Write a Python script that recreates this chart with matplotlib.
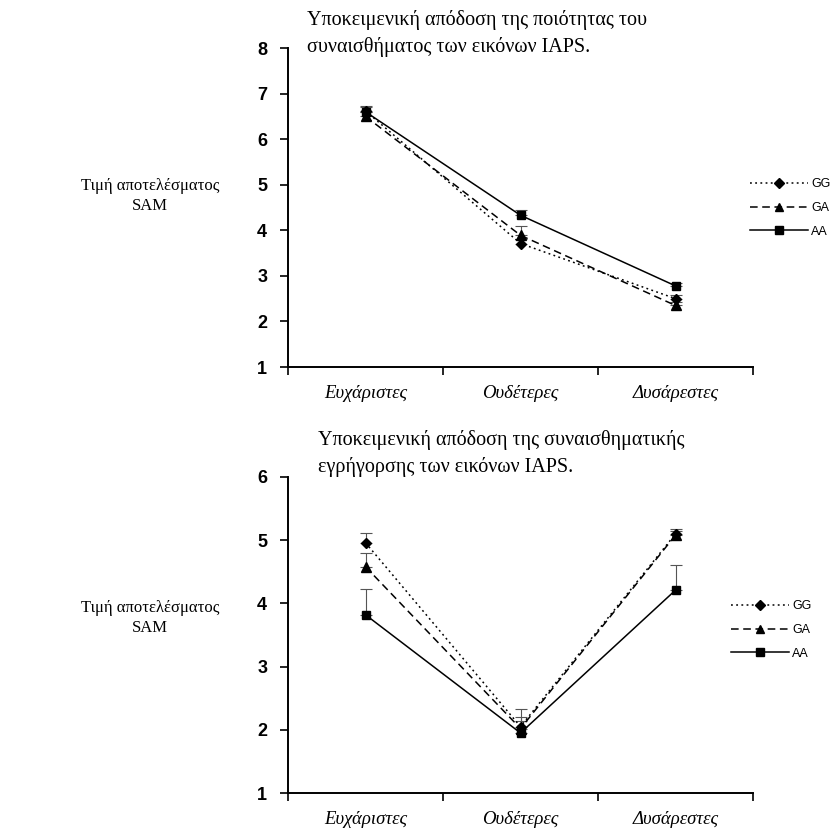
import matplotlib
matplotlib.use("Agg")
import matplotlib.pyplot as plt
from matplotlib.lines import Line2D
import numpy as np

categories = ["Ευχάριστες", "Ουδέτερες", "Δυσάρεστες"]
series = ["GG", "GA", "AA"]

# Top chart: valence
val_GG = [6.62, 3.71, 2.50]
val_GA = [6.50, 3.89, 2.35]
val_AA = [6.60, 4.33, 2.78]
val_err_GG = [0.10, 0.10, 0.08]
val_err_GA = [0.10, 0.20, 0.08]
val_err_AA = [0.10, 0.12, 0.06]

# Bottom chart: arousal
aro_GG = [4.96, 2.05, 5.10]
aro_GA = [4.58, 2.02, 5.08]
aro_AA = [3.82, 1.95, 4.21]
aro_err_GG = [0.15, 0.15, 0.08]
aro_err_GA = [0.21, 0.12, 0.06]
aro_err_AA = [0.40, 0.38, 0.40]

title_top = "Υποκειμενική απόδοση της ποιότητας του\nσυναισθήματος των εικόνων IAPS."
title_bot = "Υποκειμενική απόδοση της συναισθηματικής\nεγρήγορσης των εικόνων IAPS."
ylabel = "Τιμή αποτελέσματος\nSAM"

styles = {
    "GG": dict(ls=(0, (1.2, 2.2)), marker="D", ms=5.5),
    "GA": dict(ls=(0, (5, 3)), marker="^", ms=7),
    "AA": dict(ls="-", marker="s", ms=6),
}

fig = plt.figure(figsize=(8.36, 8.35), dpi=100)
serif = "Liberation Serif"
sans = "Liberation Sans"

def draw(ax, data, errs, ylim, title, tx, legend_y):
    x = np.arange(len(categories))
    for name, y, e in zip(series, data, errs):
        st = styles[name]
        ax.errorbar(x, y, yerr=[np.zeros(len(e)), e], fmt="none", ecolor="#555555",
                    elinewidth=0.8, capsize=4, capthick=0.8, zorder=2)
        ax.plot(x, y, color="black", lw=1.1, linestyle=st["ls"], marker=st["marker"],
                ms=st["ms"], mfc="black", mec="black", zorder=3)
    ax.set_xlim(-0.5, 2.5)
    ax.set_ylim(*ylim)
    ax.set_yticks(range(ylim[0], ylim[1] + 1))
    ax.set_xticks(x)
    ax.set_xticklabels(categories, fontfamily=serif, fontstyle="italic", fontsize=13.5)
    ax.set_xticks([-0.5, 0.5, 1.5, 2.5], minor=True)
    ax.tick_params(axis="x", which="major", length=0, pad=13)
    ax.tick_params(axis="x", which="minor", length=6, width=1.2, direction="out")
    ax.tick_params(axis="y", length=6, width=1.2, direction="out", pad=9)
    for lab in ax.get_yticklabels():
        lab.set_fontfamily(sans)
        lab.set_fontsize(13)
        lab.set_fontweight("bold")
    for s in ["top", "right"]:
        ax.spines[s].set_visible(False)
    for s in ["left", "bottom"]:
        ax.spines[s].set_linewidth(1.4)
    fig.text(tx, title[1], title[0], fontfamily=serif, fontsize=14.5, ha="left", va="top",
             linespacing=1.45)
    handles = [Line2D([0], [0], color="black", lw=1.1, linestyle=styles[n]["ls"],
                      marker=styles[n]["marker"], ms=styles[n]["ms"] * 0.85,
                      mfc="black", mec="black") for n in series]
    ax.legend(handles, series, loc="upper left", bbox_to_anchor=legend_y,
              bbox_transform=fig.transFigure, frameon=False,
              prop={"family": sans, "size": 9}, handlelength=4.6, handletextpad=0.3,
              labelspacing=0.95, borderpad=0, borderaxespad=0)

ax1 = fig.add_axes([288 / 836, 1 - 367 / 835, (753 - 288) / 836, (367 - 48) / 835])
draw(ax1, [val_GG, val_GA, val_AA], [val_err_GG, val_err_GA, val_err_AA], (1, 8),
     (title_top, 1 - 10 / 835), 307 / 836, (750 / 836, 1 - 178 / 835))
fig.text(150 / 836, 1 - 196 / 835, ylabel, fontfamily=serif, fontsize=12,
         ha="center", va="center", linespacing=1.4)

ax2 = fig.add_axes([288 / 836, 1 - 793 / 835, (753 - 288) / 836, (793 - 477) / 835])
draw(ax2, [aro_GG, aro_GA, aro_AA], [aro_err_GG, aro_err_GA, aro_err_AA], (1, 6),
     (title_bot, 1 - 430 / 835), 318 / 836, (731 / 836, 1 - 600 / 835))
fig.text(150 / 836, 1 - 618 / 835, ylabel, fontfamily=serif, fontsize=12,
         ha="center", va="center", linespacing=1.4)

fig.savefig("out.png", dpi=100)
